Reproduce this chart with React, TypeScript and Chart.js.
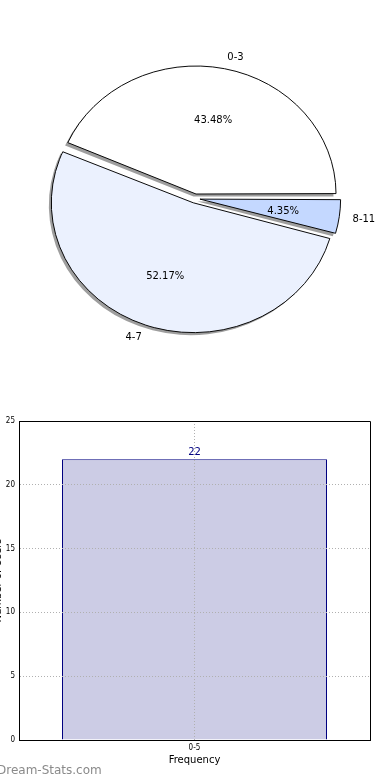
import React, { useEffect, useRef } from 'react';
import { Chart, registerables } from 'chart.js';

Chart.register(...registerables);

// ---- Pie data ----
const pieLabels = ['0-3', '4-7', '8-11'];
const pieValues = [10, 12, 1];
const pieColors = ['#ffffff', '#ebf1fe', '#c4d8ff'];
const pieExplode = [20, 20, 20];

// ---- Bar data ----
const barLabels = ['0-5'];
const barValues = [22];
const yMin = 0;
const yMax = 25;
const yStep = 5;
const xTitle = 'Frequency';
const yTitle = 'Number of Users';
const watermark = 'Dream-Stats.com';

const FONT = '"DejaVu Sans", sans-serif';
const SMALL_FONT = '"DejaVu Sans Condensed", "DejaVu Sans", sans-serif';
const ELLIPSE = 128 / 140;

function radiusOffset(a: any) {
  const off = (a.options.offset || 0) / 4;
  const circ = a.endAngle - a.startAngle;
  const fix = 1 - Math.sin(Math.min(Math.PI, circ || 0));
  return { off, rOff: off * fix };
}

const pieDecor = {
  id: 'pieDecor',
  beforeDatasetsDraw(chart: any) {
    const ctx = chart.ctx;
    const arcs = chart.getDatasetMeta(0).data;
    const cx = arcs[0].x;
    const cy = arcs[0].y;
    // shadows (under all wedges)
    ctx.save();
    ctx.translate(-2.5, 2.5);
    ctx.translate(cx, cy);
    ctx.scale(1, ELLIPSE);
    ctx.translate(-cx, -cy);
    ctx.fillStyle = 'rgba(0,0,0,0.38)';
    arcs.forEach((a: any) => {
      const { off, rOff } = radiusOffset(a);
      const mid = (a.startAngle + a.endAngle) / 2;
      const ox = a.x + Math.cos(mid) * off;
      const oy = a.y + Math.sin(mid) * off;
      ctx.beginPath();
      ctx.moveTo(ox, oy);
      ctx.arc(ox, oy, a.outerRadius + rOff, a.startAngle, a.endAngle);
      ctx.closePath();
      ctx.fill();
    });
    ctx.restore();
    // elliptical transform for the wedges
    ctx.save();
    ctx.translate(cx, cy);
    ctx.scale(1, ELLIPSE);
    ctx.translate(-cx, -cy);
  },
  afterDatasetsDraw(chart: any) {
    const ctx = chart.ctx;
    ctx.restore();
    const meta = chart.getDatasetMeta(0);
    const data = chart.data.datasets[0].data as number[];
    const total = data.reduce((s, v) => s + v, 0);
    ctx.save();
    ctx.font = `10px ${FONT}`;
    ctx.fillStyle = '#000';
    ctx.textBaseline = 'middle';
    meta.data.forEach((a: any, i: number) => {
      const { off } = radiusOffset(a);
      const mid = (a.startAngle + a.endAngle) / 2;
      const R = a.outerRadius + 3;
      const c = Math.cos(mid);
      const s = Math.sin(mid);
      const dl = R * 1.1 + off;
      ctx.textAlign = c >= 0 ? 'left' : 'right';
      ctx.fillText(chart.data.labels[i], a.x + c * dl, a.y + s * dl * ELLIPSE + 1.5);
      const dp = R * 0.6 + off;
      ctx.textAlign = 'center';
      ctx.fillText(((data[i] / total) * 100).toFixed(2) + '%', a.x + c * dp, a.y + s * dp * ELLIPSE + 1.5);
    });
    ctx.restore();
  },
};

const barDecor = {
  id: 'barDecor',
  afterDatasetsDraw(chart: any) {
    const ctx = chart.ctx;
    const meta = chart.getDatasetMeta(0);
    const data = chart.data.datasets[0].data as number[];
    ctx.save();
    ctx.font = `10px ${FONT}`;
    ctx.fillStyle = '#000080';
    ctx.textAlign = 'center';
    ctx.textBaseline = 'bottom';
    meta.data.forEach((b: any, i: number) => {
      ctx.fillText(String(data[i]), b.x, b.y - 2);
    });
    ctx.restore();
  },
  afterDraw(chart: any) {
    const { ctx, chartArea } = chart;
    const t = Math.round(chartArea.top - 0.5) + 0.5;
    const r = Math.round(chartArea.right - 0.5) + 0.5;
    ctx.save();
    ctx.strokeStyle = '#000';
    ctx.lineWidth = 1;
    ctx.beginPath();
    ctx.moveTo(chartArea.left, t);
    ctx.lineTo(r, t);
    ctx.lineTo(r, chartArea.bottom);
    ctx.stroke();
    ctx.restore();
  },
};

export default function App() {
  const pieRef = useRef<HTMLCanvasElement | null>(null);
  const barRef = useRef<HTMLCanvasElement | null>(null);

  useEffect(() => {
    document.body.style.margin = '0';
    const order = pieLabels.map((_, i) => i).reverse();
    const pie = new Chart(pieRef.current as HTMLCanvasElement, {
      type: 'pie',
      data: {
        labels: order.map((i) => pieLabels[i]),
        datasets: [
          {
            data: order.map((i) => pieValues[i]),
            backgroundColor: order.map((i) => pieColors[i]),
            offset: order.map((i) => pieExplode[i]),
            borderColor: '#000',
            borderWidth: 1,
          },
        ],
      },
      options: {
        animation: false,
        responsive: false,
        rotation: 90,
        radius: 137,
        layout: { padding: 0 },
        plugins: { legend: { display: false }, tooltip: { enabled: false } },
      } as any,
      plugins: [pieDecor],
    });

    const bar = new Chart(barRef.current as HTMLCanvasElement, {
      type: 'bar',
      data: {
        labels: barLabels,
        datasets: [
          {
            data: barValues,
            backgroundColor: '#ccccE5',
            borderColor: '#000080',
            borderWidth: 1,
            barPercentage: 0.755,
            categoryPercentage: 1,
          },
        ],
      },
      options: {
        animation: false,
        responsive: false,
        layout: { padding: { top: 24, right: 20, left: 0, bottom: 0 } },
        plugins: { legend: { display: false }, tooltip: { enabled: false } },
        scales: {
          x: {
            offset: true,
            grid: { offset: false, color: '#b0b0b0', lineWidth: 1, drawTicks: false, z: 1 },
            border: { display: true, color: '#000', width: 1, dash: [1, 2], z: 2 },
            ticks: { color: '#000', font: { family: SMALL_FONT, size: 8 }, padding: 3, maxRotation: 0 },
            title: {
              display: true,
              text: xTitle,
              color: '#000',
              font: { family: FONT, size: 10 },
              padding: { top: 0, bottom: 14 },
            },
            afterFit: (s: any) => {
              s.height = 40;
            },
          },
          y: {
            min: yMin,
            max: yMax,
            grid: { color: '#b0b0b0', lineWidth: 1, drawTicks: false, z: 1 },
            border: { display: true, color: '#000', width: 1, dash: [1, 2], z: 2 },
            ticks: { stepSize: yStep, color: '#000', font: { family: SMALL_FONT, size: 8 }, padding: 4 },
            title: {
              display: true,
              text: yTitle,
              color: '#000',
              font: { family: FONT, size: 10 },
              padding: { top: 4, bottom: 0 },
            },
            afterFit: (s: any) => {
              s.width = 31;
            },
          },
        },
      } as any,
      plugins: [barDecor],
    });

    return () => {
      pie.destroy();
      bar.destroy();
    };
  }, []);

  return (
    <div
      style={{
        position: 'absolute',
        left: 0,
        top: 0,
        width: 390,
        height: 780,
        overflow: 'hidden',
        background: '#fff',
      }}
    >
      <canvas ref={pieRef} width={390} height={397} style={{ position: 'absolute', left: 0, top: 0 }} />
      <canvas ref={barRef} width={402} height={383} style={{ position: 'absolute', left: -12, top: 397 }} />
      <div
        style={{
          position: 'absolute',
          left: -3,
          top: 763,
          font: `12px ${FONT}`,
          color: '#8a8a8a',
          whiteSpace: 'nowrap',
        }}
      >
        {watermark}
      </div>
    </div>
  );
}
